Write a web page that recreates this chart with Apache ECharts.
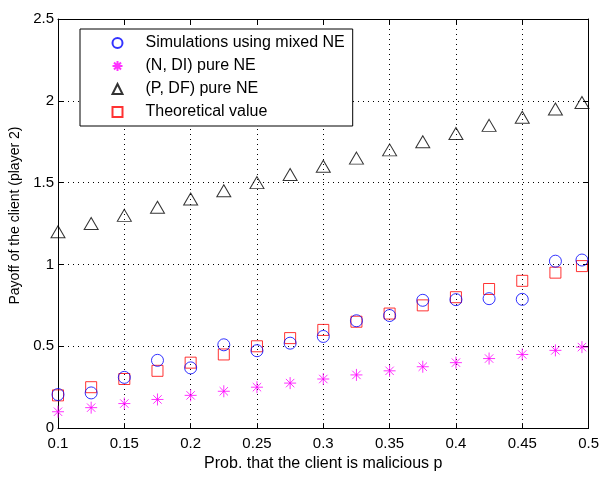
<!DOCTYPE html>
<html>
<head>
<meta charset="utf-8">
<script src="https://cdn.jsdelivr.net/npm/echarts@6/dist/echarts.min.js"></script>
<style>
html, body { margin: 0; padding: 0; background: #fff; }
#container { width: 602px; height: 477px; }
</style>
</head>
<body>
<div id="container"></div>
<script>
var probs = [0.1, 0.125, 0.15, 0.175, 0.2, 0.225, 0.25, 0.275, 0.3, 0.325, 0.35, 0.375, 0.4, 0.425, 0.45, 0.475, 0.495];
var simMixed = [0.205, 0.215, 0.31, 0.414, 0.368, 0.509, 0.473, 0.519, 0.56, 0.656, 0.688, 0.781, 0.785, 0.791, 0.787, 1.02, 1.027];
var ndiPure = [0.1, 0.125, 0.15, 0.175, 0.2, 0.225, 0.25, 0.275, 0.3, 0.325, 0.35, 0.375, 0.4, 0.425, 0.45, 0.475, 0.495];
var pdfPure = [1.2, 1.25, 1.3, 1.35, 1.4, 1.45, 1.5, 1.55, 1.6, 1.65, 1.7, 1.75, 1.8, 1.85, 1.9, 1.95, 1.99];
var theory = [0.2, 0.25, 0.3, 0.35, 0.4, 0.45, 0.5, 0.55, 0.6, 0.65, 0.7, 0.75, 0.8, 0.85, 0.9, 0.95, 0.99];
var names = ['Simulations using mixed NE', '(N, DI) pure NE', '(P, DF) pure NE', 'Theoretical value'];

function pairs(ys) {
    var out = [];
    for (var i = 0; i < probs.length; i++) {
        out.push([probs[i], ys[i]]);
    }
    return out;
}

var font = 'Liberation Sans, Arial, Helvetica, sans-serif';
var star = 'path://M0,-10L0,10M-10,0L10,0M-7,-7L7,7M-7,7L7,-7';

var myChart = echarts.init(document.getElementById('container'));
var tickCfg = { inside: true, length: 5, lineStyle: { color: '#000' } };
var option = {
    animation: false,
    backgroundColor: '#fff',
    textStyle: { fontFamily: font },
    grid: { left: 58, right: 13, top: 19, bottom: 42 },
    legend: {
        orient: 'vertical',
        left: 80,
        top: 29,
        data: names,
        backgroundColor: '#fff',
        borderColor: '#000',
        borderWidth: 1,
        borderRadius: 0,
        padding: [6, 8, 6, 30],
        itemGap: 7,
        itemWidth: 10,
        itemHeight: 10,
        textStyle: { fontFamily: font, fontSize: 16, lineHeight: 16, color: '#000', padding: [0, 0, 0, 18] }
    },
    xAxis: [{
        type: 'value',
        min: 0.1,
        max: 0.5,
        interval: 0.05,
        name: 'Prob. that the client is malicious p',
        nameLocation: 'middle',
        nameGap: 26,
        nameTextStyle: { fontFamily: font, fontSize: 16, color: '#000' },
        axisLine: { onZero: false, lineStyle: { color: '#000' } },
        axisTick: tickCfg,
        axisLabel: { color: '#000', fontSize: 15, margin: 8, fontFamily: font },
        splitLine: { show: true, lineStyle: { color: '#000', type: [1, 4], width: 1 } }
    }, {
        type: 'value',
        position: 'top',
        min: 0.1,
        max: 0.5,
        interval: 0.05,
        axisLine: { onZero: false, lineStyle: { color: '#000' } },
        axisTick: tickCfg,
        axisLabel: { show: false },
        splitLine: { show: false }
    }],
    yAxis: [{
        type: 'value',
        min: 0,
        max: 2.5,
        interval: 0.5,
        name: 'Payoff of the client (player 2)',
        nameLocation: 'middle',
        nameGap: 34,
        nameTextStyle: { fontFamily: font, fontSize: 14, color: '#000', padding: [0, 0, 0, 16] },
        axisLine: { show: true, onZero: false, lineStyle: { color: '#000' } },
        axisTick: tickCfg,
        axisLabel: { color: '#000', fontSize: 15, margin: 4, fontFamily: font },
        splitLine: { show: true, lineStyle: { color: '#000', type: [1, 4], width: 1 } }
    }, {
        type: 'value',
        position: 'right',
        min: 0,
        max: 2.5,
        interval: 0.5,
        axisLine: { show: true, onZero: false, lineStyle: { color: '#000' } },
        axisTick: tickCfg,
        axisLabel: { show: false },
        splitLine: { show: false }
    }],
    series: [{
        name: names[0],
        type: 'scatter',
        symbol: 'circle',
        symbolSize: 12,
        itemStyle: { color: 'none', borderColor: '#0000ff', borderWidth: 1 },
        data: pairs(simMixed),
        z: 4
    }, {
        name: names[1],
        type: 'scatter',
        symbol: star,
        symbolSize: 12,
        itemStyle: { color: 'none', borderColor: '#ff00ff', borderWidth: 1 },
        data: pairs(ndiPure),
        z: 3
    }, {
        name: names[2],
        type: 'scatter',
        symbol: 'triangle',
        symbolSize: [14, 12],
        itemStyle: { color: 'none', borderColor: '#000', borderWidth: 1 },
        data: pairs(pdfPure),
        z: 3
    }, {
        name: names[3],
        type: 'scatter',
        symbol: 'rect',
        symbolSize: 11,
        itemStyle: { color: 'none', borderColor: '#ff0000', borderWidth: 1 },
        data: pairs(theory),
        z: 3
    }]
};
myChart.setOption(option);
</script>
</body>
</html>
